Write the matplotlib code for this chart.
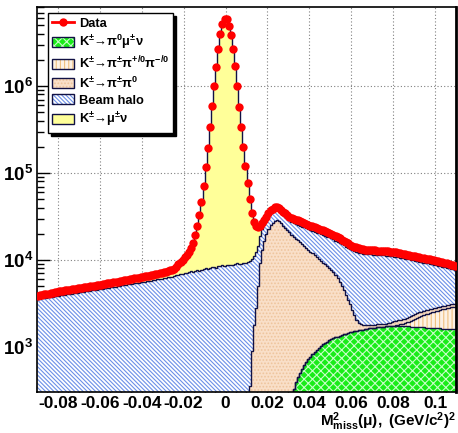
import numpy as np
import matplotlib
matplotlib.use('Agg')
import matplotlib.pyplot as plt
from matplotlib.patches import Patch
from matplotlib.lines import Line2D
from matplotlib.ticker import LogLocator, MultipleLocator, NullFormatter

plt.rcParams['font.family'] = ['Liberation Sans', 'DejaVu Sans']
plt.rcParams['font.weight'] = 'bold'
plt.rcParams['mathtext.fontset'] = 'custom'
plt.rcParams['mathtext.rm'] = 'Liberation Sans:bold'
plt.rcParams['mathtext.it'] = 'Liberation Sans:bold'
plt.rcParams['mathtext.bf'] = 'Liberation Sans:bold'
plt.rcParams['axes.unicode_minus'] = False
plt.rcParams['hatch.linewidth'] = 0.8

# histogram range, 200 bins of 0.001 (GeV/c^2)^2
x_min, x_max, n_bins = -0.09, 0.11, 200

# events per bin
data = [
    3890, 3940, 3980, 4030, 4070, 4120, 4170, 4230, 4280, 4320,
    4365, 4405, 4445, 4480, 4520, 4560, 4600, 4645, 4690, 4720,
    4765, 4810, 4850, 4900, 4940, 4990, 5020, 5070, 5120, 5160,
    5210, 5270, 5320, 5380, 5430, 5500, 5550, 5610, 5660, 5730,
    5780, 5830, 5900, 5960, 6030, 6080, 6150, 6210, 6280, 6340,
    6410, 6470, 6550, 6610, 6700, 6790, 6870, 6970, 7060, 7160,
    7240, 7350, 7480, 7620, 7760, 7940, 8410, 8910, 9440, 10000,
    10700, 11500, 12450, 13800, 15850, 19300, 24500, 33100, 46800, 70800,
    117500, 195000, 339000, 589000, 1000000, 1660000, 2630000, 3980000, 5130000, 5890000,
    5890000, 4900000, 3890000, 2690000, 1700000, 1000000, 575000, 339000, 200000, 120000,
    75900, 50100, 34700, 27500, 24500, 23700, 24500, 26300, 28800, 31600,
    34700, 37150, 38900, 40300, 40700, 39800, 37600, 35900, 34700, 33100,
    31600, 30550, 29850, 29200, 28500, 27900, 27200, 26600, 26000, 25400,
    24800, 24300, 23700, 23200, 22800, 22400, 21900, 21400, 20900, 20400,
    19950, 19500, 18800, 18300, 17800, 17200, 16600, 16000, 15500, 15000,
    14600, 14300, 14000, 13700, 13500, 13300, 13200, 13150, 13100, 13030,
    12970, 12910, 12850, 12790, 12740, 12680, 12620, 12560, 12500, 12450,
    12330, 12220, 12080, 11940, 11800, 11670, 11530, 11400, 11270, 11140,
    11020, 10890, 10770, 10640, 10520, 10400, 10280, 10160, 10050, 9910,
    9770, 9640, 9510, 9380, 9250, 9120, 8990, 8870, 8750, 8630,
]

# MC components, listed bottom of the stack first
kmu3 = [0] * 122 + [
    330, 400, 457, 500, 560, 617, 676, 724, 776, 832,
    881, 925, 977, 1023, 1072, 1114, 1156, 1197, 1230, 1260,
    1288, 1318, 1349, 1380, 1406, 1429, 1452, 1472, 1496, 1514,
    1535, 1552, 1570, 1585, 1603, 1618, 1633, 1648, 1663, 1675,
    1687, 1698, 1706, 1714, 1722, 1730, 1735, 1738, 1740, 1740,
    1740, 1738, 1735, 1732, 1728, 1722, 1716, 1710, 1704, 1698,
    1692, 1686, 1680, 1674, 1668, 1662, 1656, 1650, 1644, 1638,
    1632, 1626, 1620, 1614, 1608, 1602, 1596, 1590,
]

k3pi = [0] * 168 + [
    8, 12, 26, 46, 67, 94, 127, 165, 204, 241,
    288, 332, 385, 445, 506, 568, 632, 692, 747, 798,
    844, 891, 938, 986, 1035, 1078, 1122, 1166, 1210, 1249,
    1288, 1327,
]

kpi2 = [0] * 100 + [
    150, 360, 890, 1780, 2820, 5010, 9330, 13200, 16600, 19950,
    22900, 25100, 26900, 28300, 28840, 28180, 26610, 24830, 23440, 22130,
    20890, 19500, 18210, 17220, 16330, 15460, 14610, 13830, 13060, 12370,
    11690, 11060, 10440, 9870, 9300, 8750, 8260, 7800, 7350, 6930,
    6530, 6070, 5470, 4850, 4210, 3630, 3060, 2550, 2060, 1620,
    1190, 830, 505, 330, 260, 225, 200, 182, 170, 158,
    147, 138, 130, 122, 119, 123, 132, 149, 165, 186,
    202, 209, 221, 224, 227, 226, 231, 250, 266, 286,
    299, 300, 302, 299, 288, 276, 270, 263, 254, 252,
    249, 247, 244, 247, 243, 240, 237, 239, 242, 245,
]

halo = [
    3565, 3600, 3630, 3655, 3690, 3725, 3760, 3790, 3830, 3855,
    3890, 3925, 3965, 4000, 4035, 4065, 4100, 4140, 4180, 4215,
    4255, 4285, 4325, 4365, 4405, 4445, 4490, 4520, 4560, 4605,
    4645, 4690, 4730, 4775, 4820, 4865, 4910, 4955, 5000, 5045,
    5095, 5140, 5190, 5235, 5285, 5335, 5385, 5435, 5485, 5535,
    5585, 5635, 5690, 5740, 5810, 5860, 5930, 6000, 6055, 6125,
    6180, 6250, 6325, 6385, 6455, 6545, 6655, 6745, 6840, 6935,
    7150, 7050, 7230, 7450, 7300, 7480, 7700, 7550, 7745, 7835,
    8100, 7900, 8070, 8300, 8240, 8200, 8500, 8455, 8650, 8450,
    8650, 8850, 8770, 8700, 8915, 9150, 9055, 9000, 9300, 9270,
    9300, 9350, 9400, 9400, 9450, 9400, 9400, 9420, 9400, 9380,
    9400, 9400, 9400, 9400, 9300, 9200, 9000, 8800, 8600, 8400,
    8300, 8200, 8300, 8370, 8580, 8870, 9040, 9220, 9400, 9520,
    9600, 9740, 9770, 9860, 10010, 10170, 10160, 10140, 10090, 10030,
    10000, 10030, 9970, 10120, 10280, 10300, 10300, 10260, 10290, 10260,
    10300, 10390, 10420, 10310, 10190, 10030, 9950, 9900, 9860, 9790,
    9730, 9680, 9620, 9560, 9510, 9450, 9380, 9300, 9220, 9140,
    9000, 8880, 8720, 8570, 8410, 8270, 8100, 7940, 7760, 7580,
    7420, 7250, 7090, 6920, 6760, 6620, 6470, 6320, 6190, 6030,
    5870, 5710, 5550, 5400, 5250, 5100, 4950, 4800, 4660, 4520,
]

kmu2 = [
    325, 343, 349, 374, 380, 396, 412, 437, 452, 465,
    475, 479, 482, 481, 484, 496, 498, 505, 512, 503,
    509, 525, 525, 535, 534, 544, 533, 551, 560, 557,
    565, 582, 588, 605, 611, 636, 641, 655, 660, 683,
    687, 690, 712, 724, 746, 747, 767, 777, 797, 806,
    825, 834, 861, 869, 892, 929, 941, 972, 1007, 1036,
    1060, 1098, 1156, 1237, 1303, 1394, 1757, 2165, 2601, 3066,
    3653, 4355, 5222, 6489, 8454, 11818, 16932, 25426, 39055, 62966,
    109600, 187000, 330900, 580900, 991800, 1651700, 2621600, 3971500, 5121500, 5881400,
    5881400, 4891300, 3881200, 2681100, 1691100, 991000, 565900, 329900, 190800, 110700,
    66450, 40390, 24410, 16320, 12280, 9290, 5770, 3700, 2800, 2250,
    2400, 2650, 2600, 2600, 2560, 2420, 1990, 2270, 2660, 2570,
    2410, 2850, 3010, 3210, 3130, 3070, 2990, 2930, 2860, 2790,
    2730, 2670, 2610, 2550, 2510, 2460, 2400, 2350, 2300, 2240,
    2190, 2140, 2070, 2010, 1960, 1890, 1830, 1760, 1700, 1650,
    1610, 1570, 1540, 1510, 1480, 1460, 1450, 1450, 1440, 1430,
    1430, 1420, 1410, 1410, 1400, 1390, 1390, 1380, 1370, 1370,
    1360, 1340, 1330, 1310, 1300, 1280, 1270, 1250, 1240, 1230,
    1210, 1200, 1180, 1170, 1160, 1140, 1130, 1120, 1110, 1090,
    1070, 1060, 1050, 1030, 1020, 1000, 990, 980, 960, 950,
]

labels = ['Data',
          r'$\mathrm{K^{\pm}→π^{0}μ^{\pm}ν}$',
          r'$\mathrm{K^{\pm}→π^{\pm}π^{+/0}π^{-/0}}$',
          r'$\mathrm{K^{\pm}→π^{\pm}π^{0}}$',
          'Beam halo',
          r'$\mathrm{K^{\pm}→μ^{\pm}ν}$']

xtick_vals = [-0.08, -0.06, -0.04, -0.02, 0, 0.02, 0.04, 0.06, 0.08, 0.1]
xtick_text = ['-0.08', '-0.06', '-0.04', '-0.02', '0', '0.02', '0.04', '0.06', '0.08', '0.1']
ytick_vals = [1e3, 1e4, 1e5, 1e6]
ytick_text = [r'$\mathrm{10^{3}}$', r'$\mathrm{10^{4}}$', r'$\mathrm{10^{5}}$', r'$\mathrm{10^{6}}$']

line_col = '#111144'
styles = [
    dict(facecolor='#19ec19', hatch='xxxx', edgecolor='#c8ffc8'),
    dict(facecolor='#fdf1e4', hatch='||||', edgecolor='#f0c080'),
    dict(facecolor='#f9dfc8', hatch='.....', edgecolor='#eec49c'),
    dict(facecolor='white', hatch='\\' * 8, edgecolor='#6b8fe8'),
    dict(facecolor='#ffff99', hatch=None, edgecolor='#ffff99'),
]

fig = plt.figure(figsize=(4.58, 4.33), dpi=100)
ax = fig.add_axes([37 / 458, 1 - 392 / 433, 419 / 458, 385 / 433])
ax.set_yscale('log')

edges = np.linspace(x_min, x_max, n_bins + 1)
centers = 0.5 * (edges[:-1] + edges[1:])

# stacked fills, then the outline of every cumulative sum
bottom = np.ones(n_bins)
for vals, st in zip([kmu3, k3pi, kpi2, halo, kmu2], styles):
    top = bottom + np.array(vals, dtype=float)
    ax.stairs(top, edges, baseline=bottom, fill=True, linewidth=0, zorder=1, **st)
    bottom = top
bottom = np.ones(n_bins)
for vals in [kmu3, k3pi, kpi2, halo, kmu2]:
    top = bottom + np.array(vals, dtype=float)
    ax.stairs(top, edges, baseline=None, color=line_col, linewidth=1.0, zorder=2)
    bottom = top

ax.plot(centers, data, 'o', color='#ff0000', ms=6, mew=0, zorder=5)

ax.set_xlim(x_min, x_max)
ax.set_ylim(304, 8.1e6)

ax.set_xticks(xtick_vals, xtick_text, fontsize=12.5)
ax.xaxis.set_minor_locator(MultipleLocator(0.005))
ax.set_yticks(ytick_vals, ytick_text, fontsize=13.5)
ax.yaxis.set_minor_locator(LogLocator(base=10, subs=np.arange(2, 10)))
ax.yaxis.set_minor_formatter(NullFormatter())
ax.tick_params(which='both', direction='in', top=False, right=False, width=1, color='black')
ax.tick_params(which='major', length=9, pad=3)
ax.tick_params(axis='y', which='major', pad=3)
ax.tick_params(which='minor', length=5)
for s in ax.spines.values():
    s.set_linewidth(1.2)
ax.spines['right'].set_linewidth(2)

ax.set_axisbelow(True)
ax.grid(True, which='major', color='#808080', linestyle=(0, (1, 2)), linewidth=0.8)

ax.text(1.0, -0.089, r'$\mathrm{M^{2}_{miss}(μ),\ (GeV/c^{2})^{2}}$',
        transform=ax.transAxes, ha='right', va='baseline', fontsize=11)

handles = [Line2D([], [], color='#ff0000', marker='o', lw=2, ms=6, mew=0)]
for st in styles:
    handles.append((Patch(linewidth=0, **st),
                    Patch(facecolor='none', edgecolor=line_col, linewidth=1)))
leg = ax.legend(handles, labels, loc='upper left', bbox_to_anchor=(0.026, 0.984),
                borderaxespad=0, fontsize=9.3, frameon=True, fancybox=False,
                framealpha=1, edgecolor='black', labelspacing=0.28,
                handlelength=1.75, handleheight=0.85, handletextpad=0.35,
                borderpad=0.3,
                shadow={'facecolor': 'black', 'edgecolor': 'black', 'alpha': 1, 'ox': 2.2, 'oy': -2.2})
leg.get_frame().set_linewidth(1.0)
leg.set_zorder(10)

fig.savefig('out.png', dpi=100)
